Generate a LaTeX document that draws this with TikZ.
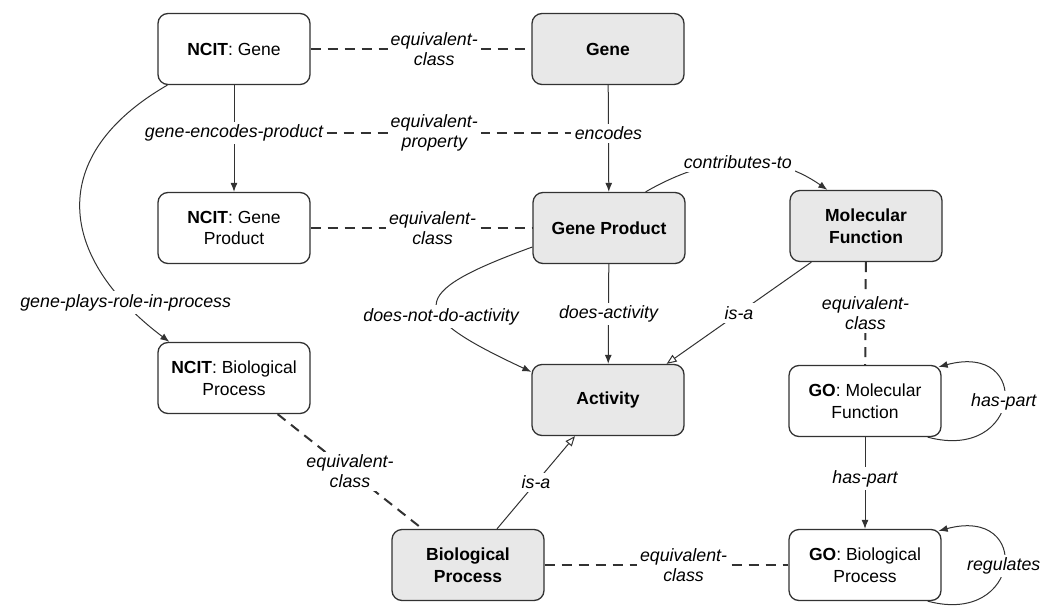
\documentclass[tikz,border=0pt]{standalone}
\usepackage{fontspec}
\setmainfont{Liberation Sans}
\usepackage{tikz}
\usetikzlibrary{arrows.meta,positioning,calc}
\definecolor{classgray}{RGB}{232,232,232}
\definecolor{linegray}{RGB}{50,50,50}

\begin{document}
\begin{tikzpicture}[x=1pt, y=-1pt,
    ext/.style={rectangle, rounded corners=10pt, draw=linegray, line width=1.3pt, fill=white, minimum width=152pt, minimum height=71pt, align=center, inner sep=2pt, font=\fontsize{17.5}{21.5}\selectfont},
    core/.style={ext, fill=classgray, font=\fontsize{17.5}{21.5}\selectfont\bfseries},
    lbl/.style={fill=white, inner sep=3pt, align=center, font=\fontsize{17.8}{20}\selectfont\itshape},
    rel/.style={-{Latex[length=9pt,width=7pt]}, line width=1pt, draw=linegray},
    isa/.style={-{Triangle[open,length=10pt,width=8pt]}, line width=1pt, draw=linegray},
    equiv/.style={line width=2pt, dash pattern=on 10pt off 7pt, draw=linegray}
]
    \useasboundingbox (0,0) rectangle (1054,607);

    \node[ext] (ncitgene) at (234,49) {\textbf{NCIT}: Gene};
    \node[core] (gene) at (608,49) {Gene};
    \node[ext] (ncitgp) at (234,228) {\textbf{NCIT}: Gene\\Product};
    \node[core] (gp) at (609,228) {Gene Product};
    \node[core] (mf) at (866,226) {Molecular\\Function};
    \node[ext] (ncitbp) at (234,378) {\textbf{NCIT}: Biological\\Process};
    \node[core] (act) at (608,400) {Activity};
    \node[ext] (gomf) at (865,401) {\textbf{GO}: Molecular\\Function};
    \node[core] (bp) at (468,565) {Biological\\Process};
    \node[ext] (gobp) at (865,565) {\textbf{GO}: Biological\\Process};

    % NCIT mappings
    \draw[equiv] (ncitgene) -- (gene) node[lbl, pos=0.56] (eqgene) {equivalent-\\class};
    \draw[rel] (ncitgene) -- (ncitgp) node[lbl, pos=0.45] (gepl) {gene-encodes-product};
    \draw[rel] (gene) -- (gp) node[lbl, pos=0.45] (encl) {encodes};
    \draw[equiv] (gepl) -- (encl) node[lbl, pos=0.44] (eqprop) {equivalent-\\property};
    \draw[equiv] (ncitgp) -- (gp) node[lbl, pos=0.55] (eqgp) {equivalent-\\class};
    \draw[rel] ([xshift=10pt]ncitgene.south west) to[out=210, in=143, looseness=1.4]
        node[lbl, pos=0.85] (gprl) {gene-plays-role-in-process} ([xshift=12pt]ncitbp.north west);
    \draw[equiv] ([xshift=-33pt]ncitbp.south east) -- ([xshift=31pt]bp.north west)
        node[lbl, midway] (eqbp) {equivalent-\\class};

    % core model
    \draw[rel] (gp) -- (act) node[lbl, midway] (dal) {does-activity};
    \draw[rel] ([yshift=-19pt]gp.west) to[out=200, in=155, looseness=2.8]
        node[lbl, pos=0.6] (dnl) {does-not-do-activity} ([yshift=-8pt]act.north west);
    \draw[rel] ([xshift=-40pt]gp.north east) to[out=30, in=145]
        node[lbl] (ctl) {contributes-to} ([xshift=38pt]mf.north west);
    \draw[isa] ([xshift=22pt]mf.south west) -- ([xshift=-18pt]act.north east) node[lbl, midway] (isamf) {is-a};
    \draw[isa] ([xshift=29pt]bp.north) -- ([xshift=-33pt]act.south) node[lbl, midway] (isabp) {is-a};

    % GO mappings
    \draw[equiv] (mf) -- (gomf) node[lbl, midway] (eqmf) {equivalent-\\class};
    \draw[rel] (gomf) -- (gobp) node[lbl, pos=0.45] (hpl) {has-part};
    \draw[equiv] (bp) -- (gobp) node[lbl, pos=0.57] (eqgobp) {equivalent-\\class};
    \draw[rel] ([xshift=-14pt]gomf.south east) to[out=-15, in=15, looseness=3.5]
        node[lbl] (hploop) {has-part} ([xshift=-3pt, yshift=-2pt]gomf.north east);
    \draw[rel] ([xshift=-14pt]gobp.south east) to[out=-15, in=15, looseness=3.5]
        node[lbl] (regloop) {regulates} ([xshift=-3pt, yshift=-2pt]gobp.north east);
\end{tikzpicture}
\end{document}
